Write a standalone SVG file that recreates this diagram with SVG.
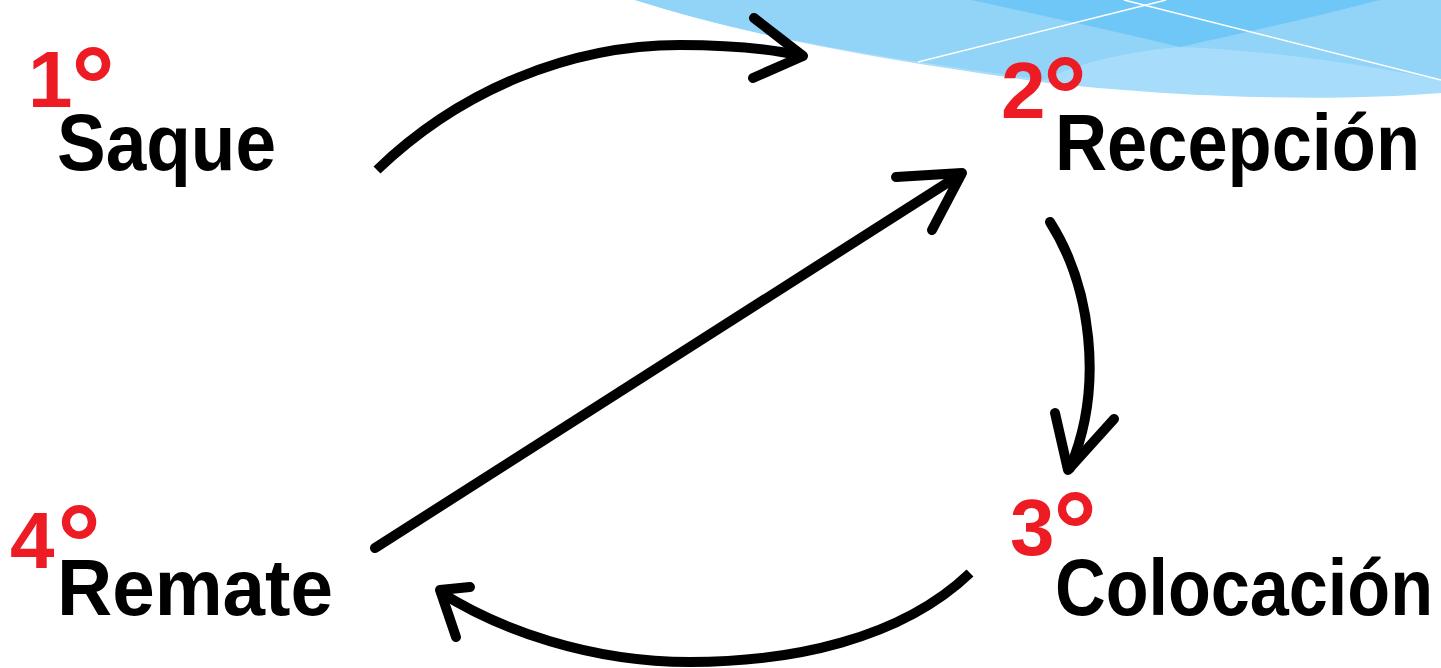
<svg xmlns="http://www.w3.org/2000/svg" width="1441" height="668" viewBox="0 0 1441 668">
<style>
.num{font-family:"Liberation Sans","DejaVu Sans",sans-serif;font-weight:bold;font-size:80px;fill:#ed1c24}
.deg{font-size:110px}
.lbl{font-family:"Liberation Sans","DejaVu Sans",sans-serif;font-weight:bold;font-size:80px;fill:#000}
.arr{fill:none;stroke:#000;stroke-width:10;stroke-linecap:round;stroke-linejoin:round}
.butt{stroke-linecap:butt}
.wl{stroke:#fff;stroke-width:1.5;fill:none}
</style>
<rect width="1441" height="668" fill="#fff"/>
<g id="decoration">
<path d="M635,0 L1441,0 L1441,93 C1330,102 1180,98 1040,82 C900,62 760,40 635,0 Z" fill="#a7ddfa"/>
<path d="M635,0 L1441,0 L1441,80 C1350,62 1260,50 1180,47 C1120,52 1070,66 1045,80 C900,60 760,40 635,0 Z" fill="#91d4f8"/>
<path d="M971,0 L1380,0 C1310,18 1240,34 1180,47 C1110,30 1040,15 971,0 Z" fill="#6fc7f7"/>
<path class="wl" d="M918,62 L1166,0"/>
<path class="wl" d="M1124,0 L1441,80"/>
</g>
<g id="connectors">
<g id="c1">
<path class="arr butt" d="M377,170 C460,90 570,45 680,45 C740,45 775,50 802,56"/>
<path class="arr" d="M754,18 L803,56 L753,78"/>
</g>
<g id="c2">
<path class="arr" d="M375,548 L958,176"/>
<path class="arr" d="M896,177 L962,173 L932,230"/>
</g>
<g id="c3">
<path class="arr" d="M1050,222 C1090,285 1105,385 1070,468"/>
<path class="arr" d="M1055,413 L1068,470 L1114,419"/>
</g>
<g id="c4">
<path class="arr butt" d="M970,573 C900,640 790,662 690,662 C590,662 500,630 440,592"/>
<path class="arr" d="M470,587 L440,590 L456,637"/>
</g>
</g>
<g id="node1">
<text class="num"><tspan x="28" y="107">1</tspan><tspan class="deg" x="71" y="124">°</tspan></text>
<text class="lbl" x="57" y="170" textLength="219" lengthAdjust="spacingAndGlyphs">Saque</text>
</g>
<g id="node2">
<text class="num"><tspan x="1001" y="118">2</tspan><tspan class="deg" x="1043" y="134">°</tspan></text>
<text class="lbl" x="1055" y="170" textLength="365" lengthAdjust="spacingAndGlyphs">Recepción</text>
</g>
<g id="node3">
<text class="num"><tspan x="1010" y="555">3</tspan><tspan class="deg" x="1053" y="569">°</tspan></text>
<text class="lbl" x="1055" y="615" textLength="378" lengthAdjust="spacingAndGlyphs">Colocación</text>
</g>
<g id="node4">
<text class="num"><tspan x="10" y="568">4</tspan><tspan class="deg" x="57" y="582">°</tspan></text>
<text class="lbl" x="57" y="615" textLength="276" lengthAdjust="spacingAndGlyphs">Remate</text>
</g>
</svg>
